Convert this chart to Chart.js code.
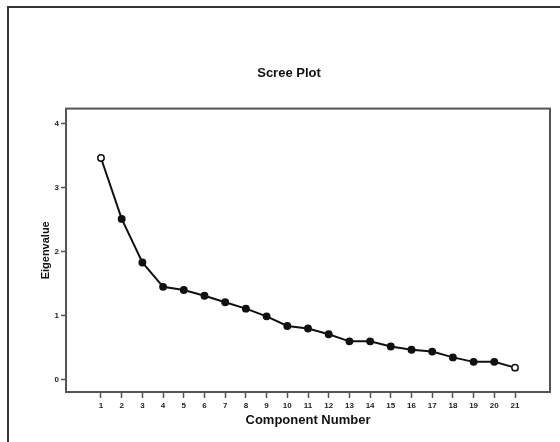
<!DOCTYPE html>
<html>
<head>
<meta charset="utf-8">
<script src="https://cdn.jsdelivr.net/npm/chart.js@4/dist/chart.umd.min.js"></script>
<style>
  html, body { margin: 0; padding: 0; background: #fff; }
  #wrap { position: relative; width: 560px; height: 442px; overflow: hidden; }
  #frame { position: absolute; left: 7px; top: 6px; width: 600px; height: 500px;
           border-left: 2px solid #333; border-top: 2px solid #333; }
  canvas { position: absolute; left: 0; top: 0; }
</style>
</head>
<body>
<div id="wrap">
  <div id="frame"></div>
  <canvas id="chart" width="560" height="442"></canvas>
</div>
<script>
const components = [1, 2, 3, 4, 5, 6, 7, 8, 9, 10, 11, 12, 13, 14, 15, 16, 17, 18, 19, 20, 21]
const eigenvalues = [3.46, 2.51, 1.83, 1.45, 1.40, 1.31, 1.21, 1.11, 0.99, 0.84, 0.80,
  0.71, 0.60, 0.60, 0.52, 0.47, 0.44, 0.35, 0.28, 0.28, 0.19]
const yTicks = [0, 1, 2, 3, 4]

const axisColor = '#555'
const tickFont = { family: 'Liberation Sans, Arial, sans-serif', size: 8, weight: 'bold' }
const last = components.length - 1

// box round the plot area (top and right sides too)
const plotBox = {
  id: 'plotBox',
  afterDraw(chart) {
    const { ctx, chartArea: a } = chart
    ctx.save()
    ctx.strokeStyle = axisColor
    ctx.lineWidth = 2
    ctx.strokeRect(a.left, a.top, a.right - a.left, a.bottom - a.top)
    ctx.restore()
  },
}

new Chart(document.getElementById('chart'), {
  type: 'line',
  data: {
    datasets: [
      {
        data: components.map((c, i) => ({ x: c, y: eigenvalues[i] })),
        borderColor: '#111',
        borderWidth: 2,
        tension: 0,
        pointRadius: 3.2,
        pointBorderWidth: 1.5,
        pointBorderColor: '#111',
        pointBackgroundColor: (c) => (c.dataIndex === 0 || c.dataIndex === last ? '#fff' : '#111'),
      },
    ],
  },
  options: {
    responsive: false,
    animation: false,
    layout: { padding: { left: 28, right: 10, top: 0, bottom: 0 } },
    plugins: {
      legend: { display: false },
      tooltip: { enabled: false },
      title: {
        display: true,
        text: 'Scree Plot',
        color: '#111',
        font: { family: 'Liberation Sans, Arial, sans-serif', size: 13, weight: 'bold' },
        padding: { top: 66, bottom: 27 },
      },
    },
    scales: {
      x: {
        type: 'linear',
        min: -0.69,
        max: 22.69,
        afterBuildTicks: (s) => { s.ticks = components.map((v) => ({ value: v })) },
        afterFit: (s) => { s.height = 50 },
        ticks: { color: '#222', font: tickFont, padding: 3, maxRotation: 0, autoSkip: false },
        grid: { drawOnChartArea: false, tickLength: 6, tickColor: axisColor, tickWidth: 1.5 },
        border: { color: axisColor, width: 2 },
        title: {
          display: true,
          text: 'Component Number',
          color: '#111',
          font: { family: 'Liberation Sans, Arial, sans-serif', size: 13, weight: 'bold' },
          padding: { top: 0, bottom: 14 },
        },
      },
      y: {
        min: -0.19,
        max: 4.23,
        afterBuildTicks: (s) => { s.ticks = yTicks.map((v) => ({ value: v })) },
        afterFit: (s) => { s.width = 38 },
        ticks: { color: '#222', font: tickFont, padding: 2 },
        grid: { drawOnChartArea: false, tickLength: 5, tickColor: axisColor, tickWidth: 1.5 },
        border: { color: axisColor, width: 2 },
        title: {
          display: true,
          text: 'Eigenvalue',
          color: '#111',
          font: { family: 'Liberation Sans, Arial, sans-serif', size: 11, weight: 'bold' },
          padding: { top: 11, bottom: 0 },
        },
      },
    },
  },
  plugins: [plotBox],
})
</script>
</body>
</html>
